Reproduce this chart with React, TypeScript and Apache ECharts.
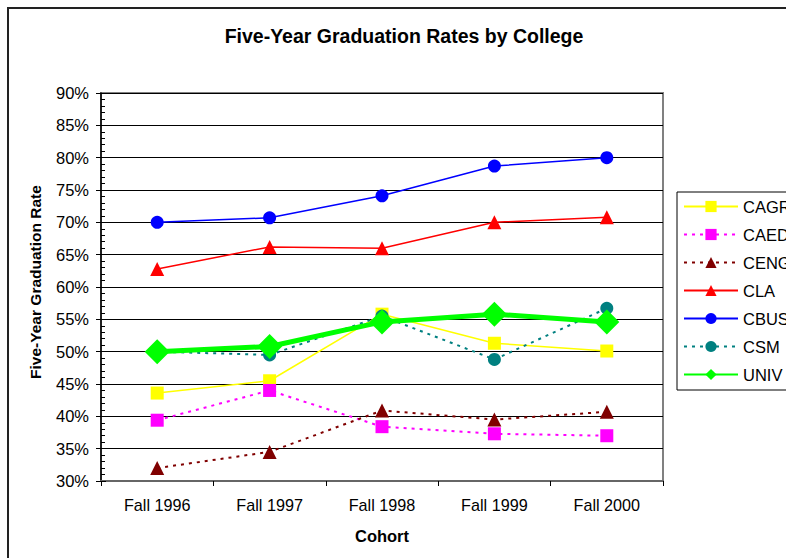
import React, { useEffect, useRef } from "react";
import * as echarts from "echarts";

const categories = ["Fall 1996", "Fall 1997", "Fall 1998", "Fall 1999", "Fall 2000"];
const cagr = [43.6, 45.5, 55.8, 51.3, 50.1];
const caed = [39.4, 44.0, 38.4, 37.3, 37.0];
const ceng = [32.0, 34.5, 40.9, 39.5, 40.7];
const cla = [62.8, 66.2, 66.0, 70.0, 70.8];
const cbus = [70.0, 70.7, 74.1, 78.7, 80.0];
const csm = [50.0, 49.5, 55.5, 48.8, 56.7];
const univ = [50.0, 50.8, 54.6, 55.8, 54.6];

const yMin = 30;
const yMax = 90;
const yStep = 5;

const FONT = "'Liberation Sans', Arial, sans-serif";

export default function App() {
  const ref = useRef<HTMLDivElement>(null);
  useEffect(() => {
    if (!ref.current) return;
    const chart = echarts.init(ref.current, undefined, { renderer: "svg" });
    const dotted = (color: string, name: string, data: number[], symbol: string, size: number) => ({
      name,
      type: "line",
      data,
      symbol,
      symbolSize: size,
      itemStyle: { color },
      lineStyle: { color, width: 2, type: [3, 5] },
    });
    const solid = (color: string, name: string, data: number[], symbol: string, size: number, width = 1.5) => ({
      name,
      type: "line",
      data,
      symbol,
      symbolSize: size,
      itemStyle: { color },
      lineStyle: { color, width, type: "solid" },
    });
    chart.setOption({
      animation: false,
      backgroundColor: "#ffffff",
      textStyle: { fontFamily: FONT },
      title: {
        text: "Five-Year Graduation Rates by College",
        left: 399,
        textAlign: "center",
        top: 21,
        textStyle: { fontFamily: FONT, fontSize: 19.5, fontWeight: "bold", color: "#000" },
      },
      graphic: [
        {
          type: "rect",
          shape: { x: 8, y: 8, width: 1000, height: 1000 },
          style: { fill: "none", stroke: "#222", lineWidth: 2 },
          silent: true,
          z: -10,
        },
      ],
      legend: {
        orient: "vertical",
        left: 677,
        top: 192,
        padding: [6, 60, 7, 6],
        itemWidth: 54,
        itemHeight: 14,
        itemGap: 11,
        borderColor: "#000",
        borderWidth: 1,
        backgroundColor: "#fff",
        textStyle: { fontFamily: FONT, fontSize: 16.5, color: "#000", lineHeight: 16 },
        data: ["CAGR", "CAED", "CENG", "CLA", "CBUS", "CSM", "UNIV"],
      },
      grid: {
        left: 101,
        right: 123,
        top: 93,
        bottom: 77,
        show: true,
        borderColor: "#808080",
        borderWidth: 2,
        backgroundColor: "#fff",
      },
      xAxis: {
        type: "category",
        data: categories,
        boundaryGap: true,
        name: "Cohort",
        nameLocation: "middle",
        nameGap: 46,
        nameTextStyle: { fontFamily: FONT, fontSize: 16.5, fontWeight: "bold", color: "#000" },
        axisLine: { lineStyle: { color: "#666", width: 2 } },
        axisTick: { show: true, length: 5, lineStyle: { color: "#000", width: 1 } },
        axisLabel: { margin: 16, fontFamily: FONT, fontSize: 16.2, color: "#000" },
      },
      yAxis: [
        {
          type: "value",
          min: yMin,
          max: yMax,
          interval: yStep,
          name: "Five-Year Graduation Rate",
          nameLocation: "middle",
          nameGap: 58,
          nameTextStyle: {
            fontFamily: FONT,
            fontSize: 15.5,
            fontWeight: "bold",
            color: "#000",
            padding: [0, 0, 0, 10],
          },
          axisLine: { show: true, lineStyle: { color: "#000", width: 1.5 } },
          axisTick: { show: true, length: 5, lineStyle: { color: "#000", width: 1 } },
          axisLabel: { margin: 12, fontFamily: FONT, fontSize: 16.5, color: "#000", formatter: (v: number) => v + "%" },
          splitLine: { show: true, lineStyle: { color: "#000", width: 1 } },
        },
        {
          type: "value",
          min: yMin,
          max: yMax,
          interval: yStep,
          position: "left",
          axisLine: { show: false },
          axisLabel: { show: false },
          splitLine: { show: false },
          axisTick: { show: true, inside: true, length: 5, lineStyle: { color: "#000", width: 1 } },
          minorTick: { show: true, splitNumber: 5, length: 4, lineStyle: { color: "#000", width: 1 } },
        },
      ],
      series: [
        solid("#FFFF00", "CAGR", cagr, "rect", 13),
        dotted("#FF00FF", "CAED", caed, "rect", 13),
        dotted("#800000", "CENG", ceng, "triangle", 14),
        solid("#FF0000", "CLA", cla, "triangle", 14),
        solid("#0000FF", "CBUS", cbus, "circle", 13),
        dotted("#008080", "CSM", csm, "circle", 13),
        solid("#00FF00", "UNIV", univ, "diamond", 25, 5),
      ],
    });
    return () => chart.dispose();
  }, []);
  return (
    <div
      ref={ref}
      style={{ position: "absolute", left: 0, top: 0, width: 786, height: 558, overflow: "hidden" }}
    />
  );
}
